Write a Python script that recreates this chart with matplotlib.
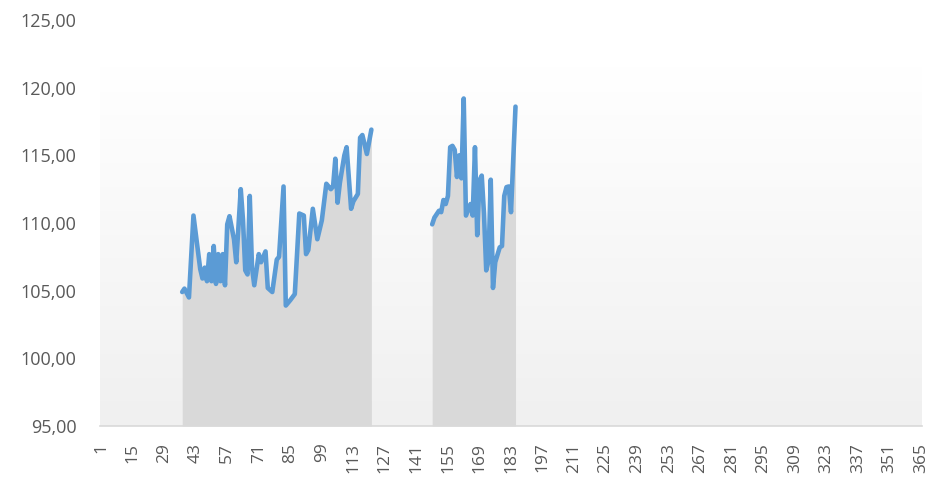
import numpy as np
import matplotlib
matplotlib.use("Agg")
import matplotlib.pyplot as plt
from matplotlib.colors import LinearSegmentedColormap

# ---- data ----
seg1_days = [37, 38, 40, 42, 45, 46, 47, 48, 49, 50, 51, 52, 53, 54, 55, 56, 57, 58, 60, 61,
             63, 64, 65, 66, 67, 68, 69, 71, 72, 74, 75, 77, 79, 80, 82, 83, 85, 87, 89, 91,
             92, 93, 95, 97, 99, 101, 103, 104, 105, 106, 107, 109, 110, 112, 113, 115, 116,
             117, 119, 121]
seg1_vals = [104.9, 105.15, 104.5, 110.55, 106.6, 105.9, 106.7, 105.7, 107.7, 105.7, 108.3,
             105.5, 107.7, 105.7, 107.7, 105.4, 109.9, 110.5, 108.8, 107.1, 112.5, 110.2,
             106.5, 106.2, 112.0, 106.7, 105.4, 107.7, 107.1, 107.9, 105.2, 104.9, 107.3,
             107.5, 112.7, 103.9, 104.3, 104.75, 110.7, 110.55, 107.7, 108.0, 111.05, 108.8,
             110.2, 112.9, 112.5, 112.7, 114.75, 111.5, 112.95, 115.0, 115.6, 111.05, 111.6,
             112.15, 116.3, 116.5, 115.1, 116.9]
seg2_days = [148, 149, 151, 152, 153, 154, 155, 156, 157, 158, 159, 160, 161, 162, 163, 165,
             166, 167, 168, 169, 170, 171, 172, 173, 174, 175, 176, 178, 179, 180, 181, 182,
             183, 185]
seg2_vals = [109.9, 110.4, 110.9, 110.8, 111.7, 111.4, 112.0, 115.6, 115.7, 115.4, 113.4,
             115.0, 113.3, 119.2, 110.55, 111.4, 110.55, 115.6, 109.1, 113.15, 113.5, 110.7,
             106.5, 107.2, 113.2, 105.2, 107.1, 108.2, 108.3, 112.0, 112.65, 112.7, 110.8,
             118.6]
background_level = 121.5
n_days = 365
tick_days = list(range(1, 366, 14))
y_ticks = [95, 100, 105, 110, 115, 120, 125]
y_labels = ["95,00", "100,00", "105,00", "110,00", "115,00", "120,00", "125,00"]

# ---- figure ----
plt.rcParams['font.family'] = ['Open Sans', 'DejaVu Sans']
fig = plt.figure(figsize=(9.29, 4.86), dpi=100)
ax = fig.add_axes([100/929, 1 - 426/486, 822/929, (426 - 20)/486])

ymin, ymax = 95, 125
ax.set_xlim(0.5, n_days + 0.5)
ax.set_ylim(ymin, ymax)

# gradient background area
cmap = LinearSegmentedColormap.from_list("bg", ["#f0f0f0", "#ffffff"])
grad = np.linspace(0, 1, 256).reshape(-1, 1)
ax.imshow(grad, cmap=cmap, aspect='auto', origin='lower',
          extent=[0.5, n_days + 0.5, ymin, background_level], zorder=0,
          interpolation='bicubic')

line_color = "#5B9BD5"
for d, v in [(seg1_days, seg1_vals), (seg2_days, seg2_vals)]:
    ax.fill_between(d, v, ymin, color="#d9d9d9", lw=0, zorder=1)
    ax.plot(d, v, color=line_color, lw=3.3, solid_joinstyle='round',
            solid_capstyle='round', zorder=2)

for s in ['top', 'right', 'left']:
    ax.spines[s].set_visible(False)
ax.spines['bottom'].set_color("#d9d9d9")
ax.spines['bottom'].set_linewidth(1.2)

ax.set_yticks(y_ticks)
ax.set_yticklabels(y_labels)
ax.set_xticks(tick_days)
ax.set_xticklabels([str(t) for t in tick_days], rotation=90)
ax.tick_params(axis='y', length=0, pad=17, labelsize=13, labelcolor="#595959")
ax.tick_params(axis='x', length=0, pad=12, labelsize=12.5, labelcolor="#595959")

fig.savefig("out.png", dpi=100)
